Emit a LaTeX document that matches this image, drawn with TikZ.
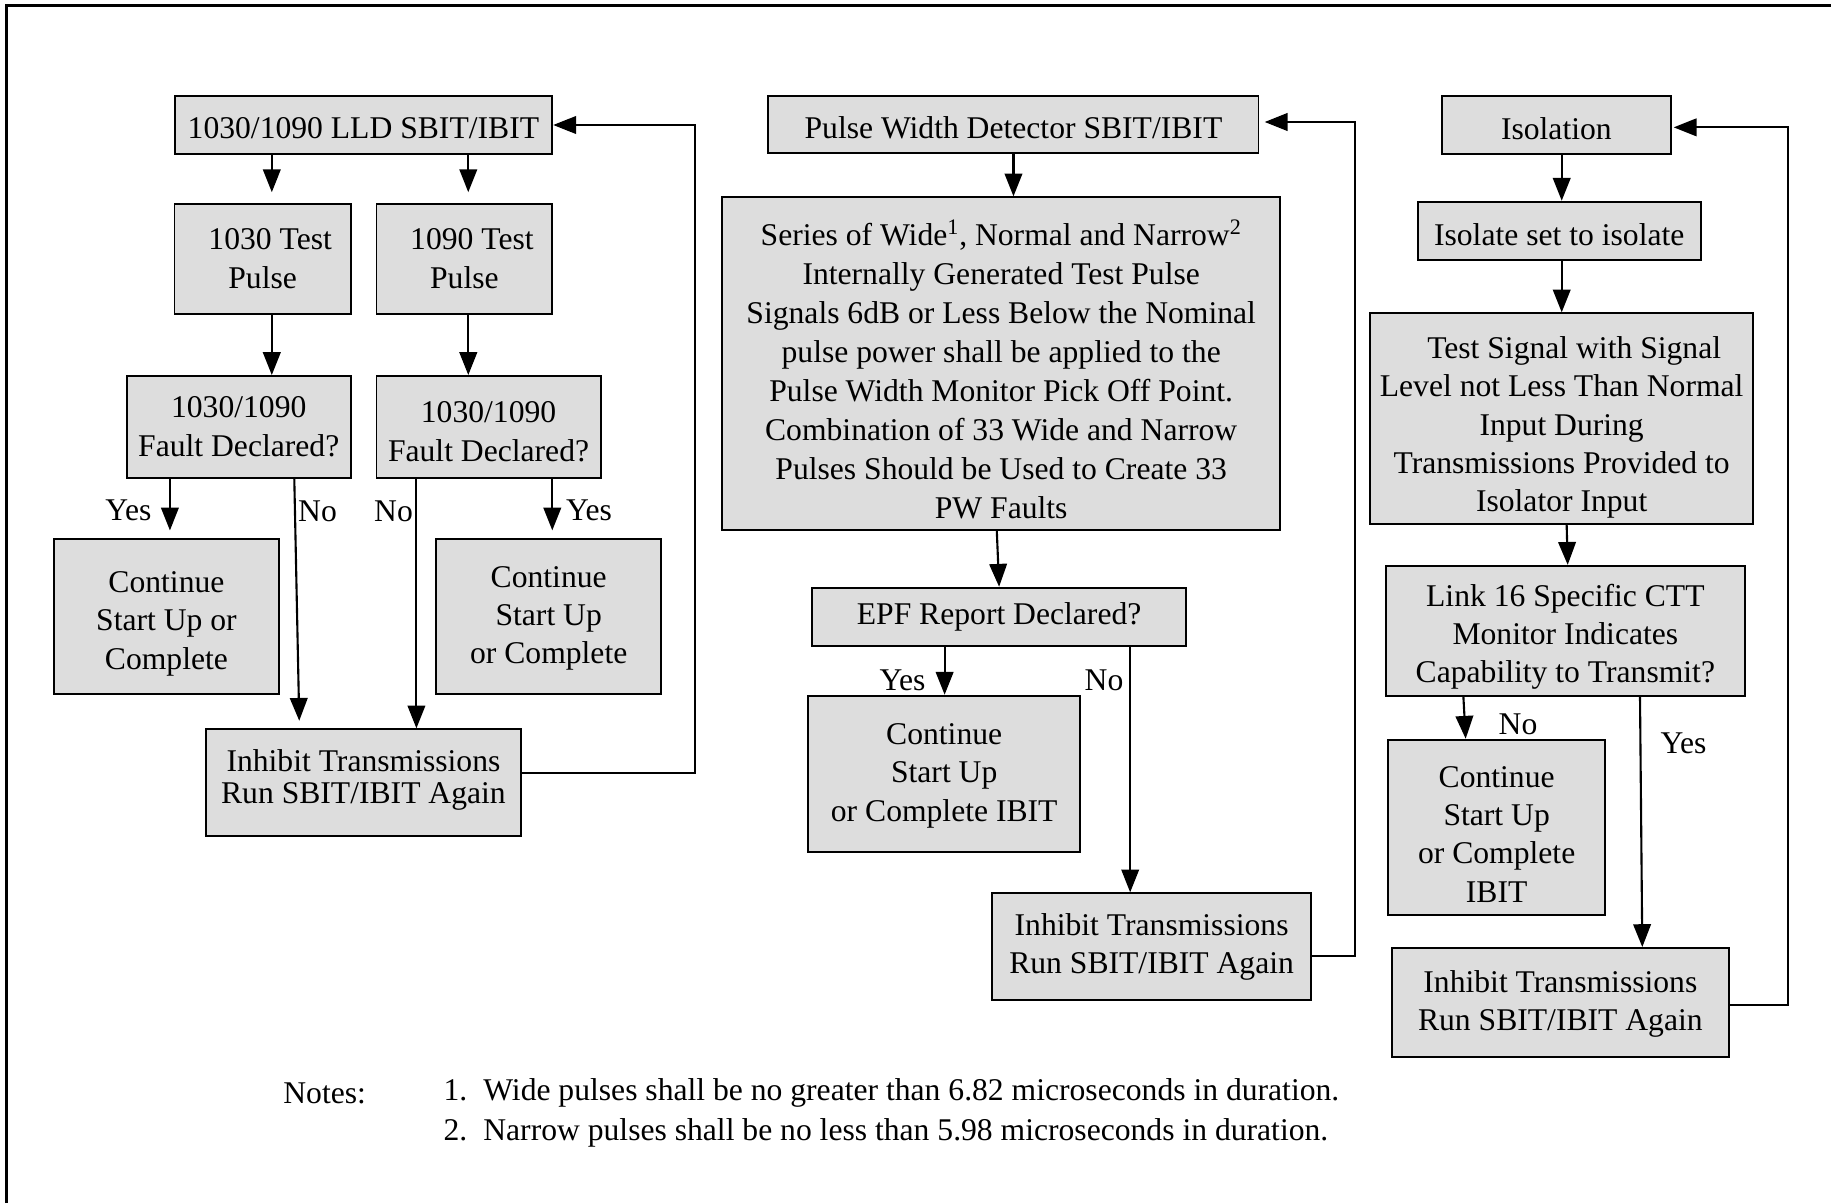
\documentclass[tikz,border=0pt]{standalone}
\usepackage{fontspec}
\setmainfont{Liberation Serif}
\usetikzlibrary{arrows.meta}
\definecolor{boxgray}{RGB}{221,221,221}
\tikzset{
  box/.style={draw, fill=boxgray, line width=1.1pt, inner sep=0pt},
  txt/.style={align=center, inner sep=0pt, font=\fontsize{18}{21.8}\selectfont},
  lbl/.style={inner sep=0pt, font=\fontsize{18}{21.8}\selectfont},
  arr/.style={line width=1.2pt, -{Triangle[length=13pt,width=10pt]}},
}
% box: name, x, y, width, height, text shift, text
\newcommand\bx[7]{%
  \node[box, minimum width=#4, minimum height=#5] (#1) at (#2,#3) {};
  \node[txt] (#1t) at ([yshift=#6]#1.center) {#7};}
\begin{document}
\begin{tikzpicture}[x=0.02cm,y=-0.02cm]
\useasboundingbox (0,0) rectangle (1831,1203);
\draw[line width=1.2pt] (6.5,1203) -- (6.5,5.5) -- (1831,5.5);

% ---------- left column ----------
\bx{A}{363.4}{125}{7.556cm}{1.16cm}{-2pt}{1030/1090 LLD SBIT/IBIT}
\bx{B}{262.65}{258.7}{3.526cm}{2.2cm}{0pt}{\hspace{0.3cm}1030 Test\\Pulse}
\bx{C}{464.4}{258.7}{3.516cm}{2.2cm}{0pt}{\hspace{0.3cm}1090 Test\\Pulse}
\bx{D}{238.75}{426.85}{4.482cm}{2.034cm}{0pt}{1030/1090\\Fault Declared?}
\bx{E}{488.55}{426.85}{4.482cm}{2.034cm}{-2.7pt}{1030/1090\\Fault Declared?}
\bx{F}{166.45}{616.65}{4.49cm}{3.094cm}{-4pt}{Continue\\Start Up or\\Complete}
\bx{G}{548.7}{616.65}{4.5cm}{3.094cm}{-1pt}{Continue\\Start Up\\or Complete}
\node[box, minimum width=6.29cm, minimum height=2.134cm] (H) at (363.45,782.65) {};
\node[txt, font=\fontsize{18}{18.2}\selectfont] (Ht) at ([yshift=1.5pt]H.center) {Inhibit Transmissions\\Run SBIT/IBIT Again};

\draw[arr, shorten >=6pt] ([xshift=-1.832cm]A.south) -- ([xshift=-1.832cm]A.south |- B.north);
\draw[arr, shorten >=6pt] ([xshift=2.098cm]A.south) -- ([xshift=2.098cm]A.south |- C.north);
\draw[arr] ([xshift=0.183cm]B.south) -- ([xshift=0.183cm]B.south |- D.north);
\draw[arr] ([xshift=0.078cm]C.south) -- ([xshift=0.078cm]C.south |- E.north);
\draw[arr, shorten >=4.5pt] ([xshift=-1.377cm]D.south) -- ([xshift=-1.377cm]D.south |- F.north);
\draw[arr, shorten >=4.3pt] ([xshift=1.111cm]D.south) -- ([xshift=-1.281cm]H.north);
\draw[arr] ([xshift=-1.443cm]E.south) -- ([xshift=-1.443cm]E.south |- H.north);
\draw[arr, shorten >=4.5pt] ([xshift=1.275cm]E.south) -- ([xshift=1.275cm]E.south |- G.north);
\draw[arr] ([yshift=0.187cm]H.east) -- ++(173.1,0) |- (A.east);

\node[lbl] (y1) at (128.5,510) {Yes};
\node[lbl] (n1) at (317.5,511.7) {No};
\node[lbl] (n2) at (393.5,511.7) {No};
\node[lbl] (y2) at (589,510) {Yes};

% ---------- middle column ----------
\bx{P}{1013.45}{124.5}{9.802cm}{1.152cm}{-2pt}{Pulse Width Detector SBIT/IBIT}
\node[box, minimum width=11.168cm, minimum height=6.654cm] (S) at (1001.2,363.65) {};
\node[txt, font=\fontsize{18}{22.2}\selectfont] (St) at ([yshift=-3.5pt]S.center)
  {Series of Wide\textsuperscript{1}, Normal and Narrow\textsuperscript{2}\\
   Internally Generated Test Pulse\\
   Signals 6dB or Less Below the Nominal\\
   pulse power shall be applied to the\\
   Pulse Width Monitor Pick Off Point.\\
   Combination of 33 Wide and Narrow\\
   Pulses Should be Used to Create 33\\
   PW Faults};
\bx{Q}{999.1}{616.85}{7.492cm}{1.166cm}{0pt}{EPF Report Declared?}
\bx{R}{944.2}{773.7}{5.448cm}{3.12cm}{-1.2pt}{Continue\\Start Up\\or Complete IBIT}
\bx{T}{1151.6}{946.65}{6.368cm}{2.134cm}{0pt}{Inhibit Transmissions\\Run SBIT/IBIT Again}

\draw[arr] (P.south) -- (P.south |- S.north);
\draw[arr] ([xshift=-0.088cm]S.south) -- (Q.north);
\draw[arr] ([xshift=-1.09cm]Q.south) -- ([xshift=-1.09cm]Q.south |- R.north);
\draw[arr] ([xshift=2.622cm]Q.south) -- ([xshift=2.622cm]Q.south |- T.north);
\draw[arr, shorten >=3pt] ([yshift=-0.181cm]T.east) -- ++(43.2,0) |- ([yshift=0.05cm]P.east);

\node[lbl] (y3) at (902.5,680) {Yes};
\node[lbl] (n3) at (1104,680) {No};

% ---------- right column ----------
\bx{I1}{1556.35}{124.85}{4.586cm}{1.166cm}{-2pt}{Isolation}
\bx{I2}{1559.2}{230.85}{5.66cm}{1.166cm}{-2.2pt}{Isolate set to isolate}
\bx{I3}{1561.65}{418.65}{7.666cm}{4.214cm}{-5pt}{\hspace{0.5cm}Test Signal with Signal\\Level not Less Than Normal\\Input During\\Transmissions Provided to\\Isolator Input}
\bx{I4}{1565.35}{630.7}{7.186cm}{2.596cm}{-3.5pt}{Link 16 Specific CTT\\Monitor Indicates\\Capability to Transmit?}
\bx{I5}{1496.65}{827.5}{4.334cm}{3.512cm}{-3.8pt}{Continue\\Start Up\\or Complete\\IBIT}
\bx{I6}{1560.35}{1002.6}{6.746cm}{2.184cm}{-0.6pt}{Inhibit Transmissions\\Run SBIT/IBIT Again}

\draw[arr] ([xshift=0.107cm]I1.south) -- ([xshift=0.107cm]I1.south |- I2.north);
\draw[arr] ([xshift=0.05cm]I2.south) -- ([xshift=0.05cm]I2.south |- I3.north);
\draw[arr] ([xshift=0.1cm]I3.south) -- ([xshift=0.047cm]I4.north);
\draw[arr] ([xshift=-2.04cm]I4.south) -- ([xshift=-0.62cm]I5.north);
\draw[arr] ([xshift=1.493cm]I4.south) -- ([xshift=1.639cm]I6.north);
\draw[arr, shorten >=1pt] ([yshift=-0.046cm]I6.east) -- ++(57.7,0) |- ([yshift=-0.05cm]I1.east);

\node[lbl] (n4) at (1518,724) {No};
\node[lbl] (y4) at (1683.5,743) {Yes};

% ---------- notes ----------
\node[lbl, anchor=west] (notes) at (283,1093.3) {Notes:};
\node[lbl, anchor=west] (note1) at (443.3,1093.3) {\makebox[22.6pt][l]{1.}Wide pulses shall be no greater than 6.82 microseconds in duration.};
\node[lbl, anchor=west] (note2) at (443.3,1133) {\makebox[22.6pt][l]{2.}Narrow pulses shall be no less than 5.98 microseconds in duration.};
\end{tikzpicture}
\end{document}
